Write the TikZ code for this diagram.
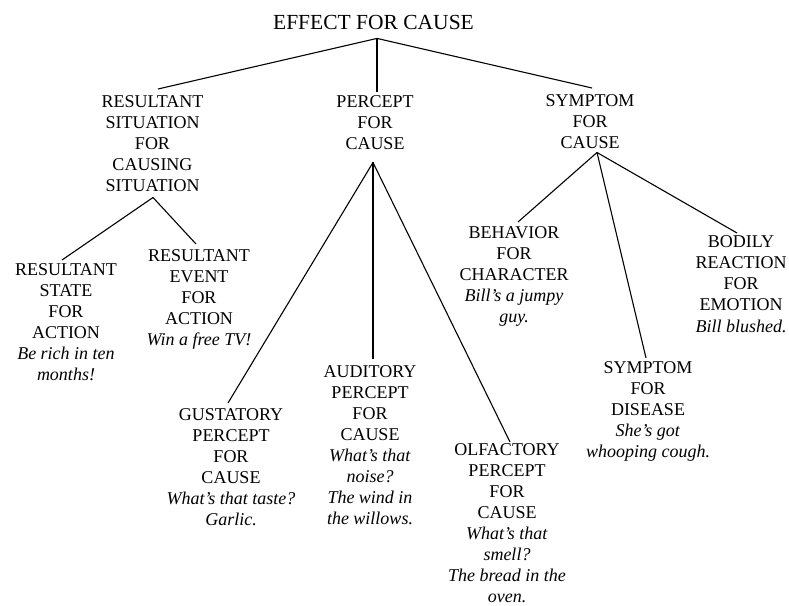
\documentclass[tikz,border=0pt]{standalone}
\usepackage{fontspec}
\setmainfont{Liberation Serif}
\begin{document}
\begin{tikzpicture}[x=1pt,y=-1pt,
  lbl/.style={inner sep=0pt, anchor=north, align=center, font=\fontsize{18}{21}\selectfont},
  ttl/.style={inner sep=0pt, anchor=base, font=\fontsize{21.5}{24}\selectfont},
  edge/.style={line width=1.1pt, black}]
\useasboundingbox (0,0) rectangle (789,605);
\node[ttl] (root) at (373.5,29) {EFFECT FOR CAUSE};
\node[lbl] (rsfcs) at (152.5,95.5) {RESULTANT\\SITUATION\\FOR\\CAUSING\\SITUATION};
\node[lbl] (pfc) at (375,95.5) {PERCEPT\\FOR\\CAUSE};
\node[lbl] (sfc) at (590,94) {SYMPTOM\\FOR\\CAUSE};
\node[lbl] (rsfa) at (66,263) {RESULTANT\\STATE\\FOR\\ACTION\\\textit{Be rich in ten}\\\textit{months!}};
\node[lbl] (refa) at (199,249) {RESULTANT\\EVENT\\FOR\\ACTION\\\textit{Win a free TV!}};
\node[lbl] (gpfc) at (231,408) {GUSTATORY\\PERCEPT\\FOR\\CAUSE\\\textit{What's that taste?}\\\textit{Garlic.}};
\node[lbl] (apfc) at (370,365) {AUDITORY\\PERCEPT\\FOR\\CAUSE\\\textit{What's that}\\\textit{noise?}\\\textit{The wind in}\\\textit{the willows.}};
\node[lbl] (opfc) at (507,443) {OLFACTORY\\PERCEPT\\FOR\\CAUSE\\\textit{What's that}\\\textit{smell?}\\\textit{The bread in the}\\\textit{oven.}};
\node[lbl] (bfc) at (514,226) {BEHAVIOR\\FOR\\CHARACTER\\\textit{Bill's a jumpy}\\\textit{guy.}};
\node[lbl] (sfd) at (648,361) {SYMPTOM\\FOR\\DISEASE\\\textit{She's got}\\\textit{whooping cough.}};
\node[lbl] (brfe) at (741,235) {BODILY\\REACTION\\FOR\\EMOTION\\[1pt]\textit{Bill blushed.}};
\coordinate (rootb) at ([xshift=3.5pt,yshift=-9pt]root.south);
\draw[edge] (rootb) -- ([xshift=5.5pt,yshift=6.5pt]rsfcs.north);
\draw[edge] (rootb) -- ([xshift=2pt,yshift=3.5pt]pfc.north);
\draw[edge] (rootb) -- ([xshift=2pt,yshift=6pt]sfc.north);
\coordinate (rsfcsb) at ([xshift=0.5pt,yshift=-5.5pt]rsfcs.south);
\draw[edge] (rsfcsb) -- ([xshift=-4pt,yshift=3pt]rsfa.north);
\draw[edge] (rsfcsb) -- ([xshift=-3pt,yshift=5pt]refa.north);
\coordinate (pfcb) at ([xshift=-2pt,yshift=-12.5pt]pfc.south);
\draw[edge] (pfcb) -- ([xshift=-3pt,yshift=5pt]gpfc.north);
\draw[edge] (pfcb) -- ([xshift=3pt,yshift=6pt]apfc.north);
\draw[edge] (pfcb) -- ([xshift=3pt,yshift=1pt]opfc.north);
\coordinate (sfcb) at ([xshift=7pt,yshift=-4pt]sfc.south);
\draw[edge] (sfcb) -- ([xshift=4pt,yshift=4pt]bfc.north);
\draw[edge] (sfcb) -- ([xshift=-2pt,yshift=3pt]sfd.north);
\draw[edge] (sfcb) -- ([xshift=-4pt,yshift=2pt]brfe.north);
\end{tikzpicture}
\end{document}
